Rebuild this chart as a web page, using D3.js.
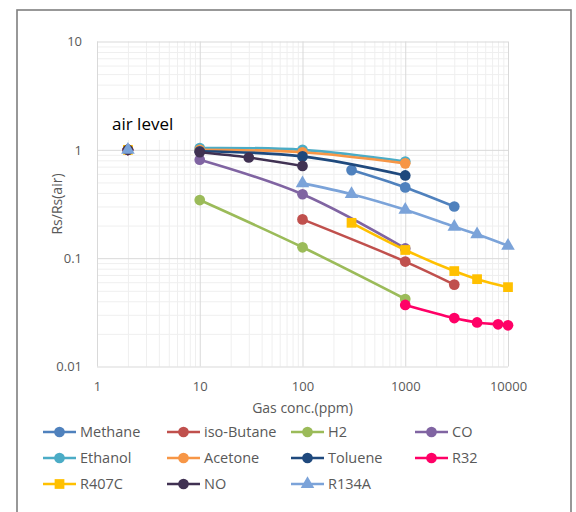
<!DOCTYPE html>
<html>
<head>
<meta charset="utf-8">
<script src="https://cdn.jsdelivr.net/npm/d3@7"></script>
<style>
  body { margin: 0; background: #fff; }
  text { font-family: "Open Sans", sans-serif; fill: #595959; }
</style>
</head>
<body>
<div id="chart"></div>
<script>
// series names, colours and marker shapes
const seriesNames = ["Methane", "iso-Butane", "H2", "CO", "Ethanol", "Acetone", "Toluene", "R32", "R407C", "NO", "R134A"];
const seriesColors = ["#4F81BD", "#C0504D", "#9BBB59", "#8064A2", "#4BACC6", "#F79646", "#1F497D", "#FF0066", "#FFC000", "#403152", "#7BA3D9"];
const seriesShapes = ["circle", "circle", "circle", "circle", "circle", "circle", "circle", "circle", "square", "circle", "triangle"];

// gas concentrations (ppm) and Rs/Rs(air) values per series
const methaneX = [300, 1000, 3000];
const methaneY = [0.65, 0.45, 0.30];
const butaneX = [100, 1000, 3000];
const butaneY = [0.228, 0.093, 0.057];
const h2X = [10, 100, 1000];
const h2Y = [0.344, 0.126, 0.042];
const coX = [10, 100, 1000];
const coY = [0.81, 0.389, 0.123];
const ethanolX = [10, 100, 1000];
const ethanolY = [1.04, 1.0, 0.78];
const acetoneX = [10, 100, 1000];
const acetoneY = [1.0, 0.95, 0.75];
const tolueneX = [10, 100, 1000];
const tolueneY = [0.97, 0.87, 0.58];
const r32X = [1000, 3000, 5000, 8000, 10000];
const r32Y = [0.037, 0.028, 0.0255, 0.0245, 0.024];
const r407cX = [300, 1000, 3000, 5000, 10000];
const r407cY = [0.212, 0.119, 0.076, 0.064, 0.054];
const noX = [10, 30, 100];
const noY = [0.95, 0.85, 0.71];
const r134aX = [100, 300, 1000, 3000, 5000, 10000];
const r134aY = [0.49, 0.39, 0.28, 0.195, 0.166, 0.13];

// air level point (shown for every series)
const airX = 2;
const airY = 1;

// axis ticks
const xTicks = [1, 10, 100, 1000, 10000];
const xTickLabels = ["1", "10", "100", "1000", "10000"];
const yTicks = [0.01, 0.1, 1, 10];
const yTickLabels = ["0.01", "0.1", "1", "10"];

const allX = [methaneX, butaneX, h2X, coX, ethanolX, acetoneX, tolueneX, r32X, r407cX, noX, r134aX];
const allY = [methaneY, butaneY, h2Y, coY, ethanolY, acetoneY, tolueneY, r32Y, r407cY, noY, r134aY];

const W = 576, H = 512;
const plot = {left: 97, right: 508, top: 41.5, bottom: 366.5};

const svg = d3.select("#chart").append("svg")
    .attr("width", W)
    .attr("height", H);

// outer chart frame
svg.append("rect")
    .attr("x", 17).attr("y", 10)
    .attr("width", 554).attr("height", 520)
    .attr("fill", "#fff")
    .attr("stroke", "#7f7f7f")
    .attr("stroke-width", 1.6);

const x = d3.scaleLog().domain([1, 10000]).range([plot.left, plot.right]);
const y = d3.scaleLog().domain([0.01, 10]).range([plot.bottom, plot.top]);

// minor ticks 2..9 of every decade
const minorX = [], minorY = [];
for (let p = 1; p < 10000; p *= 10) for (let k = 2; k <= 9; k++) minorX.push(p * k);
for (let p = 0.01; p < 9; p *= 10) for (let k = 2; k <= 9; k++) minorY.push(+(p * k).toPrecision(3));

// minor grid
svg.append("g")
    .attr("transform", `translate(0,${plot.bottom})`)
    .call(d3.axisBottom(x).tickValues(minorX).tickSize(-(plot.bottom - plot.top)).tickFormat(""))
    .call(g => g.select(".domain").remove())
    .call(g => g.selectAll("line").attr("stroke", "#efefef"));
svg.append("g")
    .attr("transform", `translate(${plot.left},0)`)
    .call(d3.axisLeft(y).tickValues(minorY).tickSize(-(plot.right - plot.left)).tickFormat(""))
    .call(g => g.select(".domain").remove())
    .call(g => g.selectAll("line").attr("stroke", "#efefef"));

// major grid
svg.append("g")
    .attr("transform", `translate(0,${plot.bottom})`)
    .call(d3.axisBottom(x).tickValues(xTicks).tickSize(-(plot.bottom - plot.top)).tickFormat(""))
    .call(g => g.select(".domain").remove())
    .call(g => g.selectAll("line").attr("stroke", "#d9d9d9"));
svg.append("g")
    .attr("transform", `translate(${plot.left},0)`)
    .call(d3.axisLeft(y).tickValues(yTicks).tickSize(-(plot.right - plot.left)).tickFormat(""))
    .call(g => g.select(".domain").remove())
    .call(g => g.selectAll("line").attr("stroke", "#d9d9d9"));

// tick labels
svg.append("g")
    .attr("transform", `translate(0,${plot.bottom})`)
    .call(d3.axisBottom(x).tickValues(xTicks).tickSize(0).tickPadding(15)
        .tickFormat((d, i) => xTickLabels[i]))
    .call(g => g.select(".domain").remove())
    .call(g => g.selectAll("text").style("font-size", "13px").attr("fill", "#595959"));
svg.append("g")
    .attr("transform", `translate(${plot.left},0)`)
    .call(d3.axisLeft(y).tickValues(yTicks).tickSize(0).tickPadding(15)
        .tickFormat((d, i) => yTickLabels[i]))
    .call(g => g.select(".domain").remove())
    .call(g => g.selectAll("text").style("font-size", "13px").attr("fill", "#595959"));

// axis titles
svg.append("text")
    .attr("x", (plot.left + plot.right) / 2)
    .attr("y", 413)
    .attr("text-anchor", "middle")
    .style("font-size", "14px")
    .text("Gas conc.(ppm)");
svg.append("text")
    .attr("transform", `translate(62,${(plot.top + plot.bottom) / 2}) rotate(-90)`)
    .attr("text-anchor", "middle")
    .style("font-size", "14px")
    .text("Rs/Rs(air)");

// "air level" label box
svg.append("rect")
    .attr("x", plot.left + 1).attr("y", 100)
    .attr("width", 92).attr("height", 40)
    .attr("fill", "#fff");
svg.append("text")
    .attr("x", 112).attr("y", 130)
    .style("font-size", "17px")
    .style("fill", "#000")
    .text("air level");

const symbolType = {circle: d3.symbolCircle, square: d3.symbolSquare, triangle: d3.symbolTriangle};
const symbolSize = {circle: 90, square: 95, triangle: 80};
const markerPath = shape => d3.symbol().type(symbolType[shape]).size(symbolSize[shape])();

const line = d3.line()
    .x(d => x(d[0]))
    .y(d => y(d[1]))
    .curve(d3.curveCatmullRom);

// air level markers
seriesNames.forEach((name, i) => {
    svg.append("path")
        .attr("d", markerPath(seriesShapes[i]))
        .attr("transform", `translate(${x(airX)},${y(airY)})`)
        .attr("fill", seriesColors[i]);
});

// series
seriesNames.forEach((name, i) => {
    const pts = allX[i].map((v, j) => [v, allY[i][j]]);
    const g = svg.append("g");
    g.append("path")
        .datum(pts)
        .attr("d", line)
        .attr("fill", "none")
        .attr("stroke", seriesColors[i])
        .attr("stroke-width", 2.6)
        .attr("stroke-linejoin", "round");
    g.selectAll(".pt")
        .data(pts)
        .join("path")
        .attr("class", "pt")
        .attr("d", markerPath(seriesShapes[i]))
        .attr("transform", d => `translate(${x(d[0])},${y(d[1])})`)
        .attr("fill", seriesColors[i]);
});

// legend
const legendCols = [43, 167, 291, 415];
const legendRows = [432, 458, 484];
seriesNames.forEach((name, i) => {
    const lx = legendCols[i % 4], ly = legendRows[Math.floor(i / 4)];
    const g = svg.append("g").attr("transform", `translate(${lx},${ly})`);
    g.append("line")
        .attr("x1", 0).attr("x2", 33)
        .attr("stroke", seriesColors[i])
        .attr("stroke-width", 2.6);
    g.append("path")
        .attr("d", markerPath(seriesShapes[i]))
        .attr("transform", "translate(16.5,0)")
        .attr("fill", seriesColors[i]);
    g.append("text")
        .attr("x", 37)
        .attr("dy", "0.35em")
        .style("font-size", "14.5px")
        .text(name);
});
</script>
</body>
</html>
